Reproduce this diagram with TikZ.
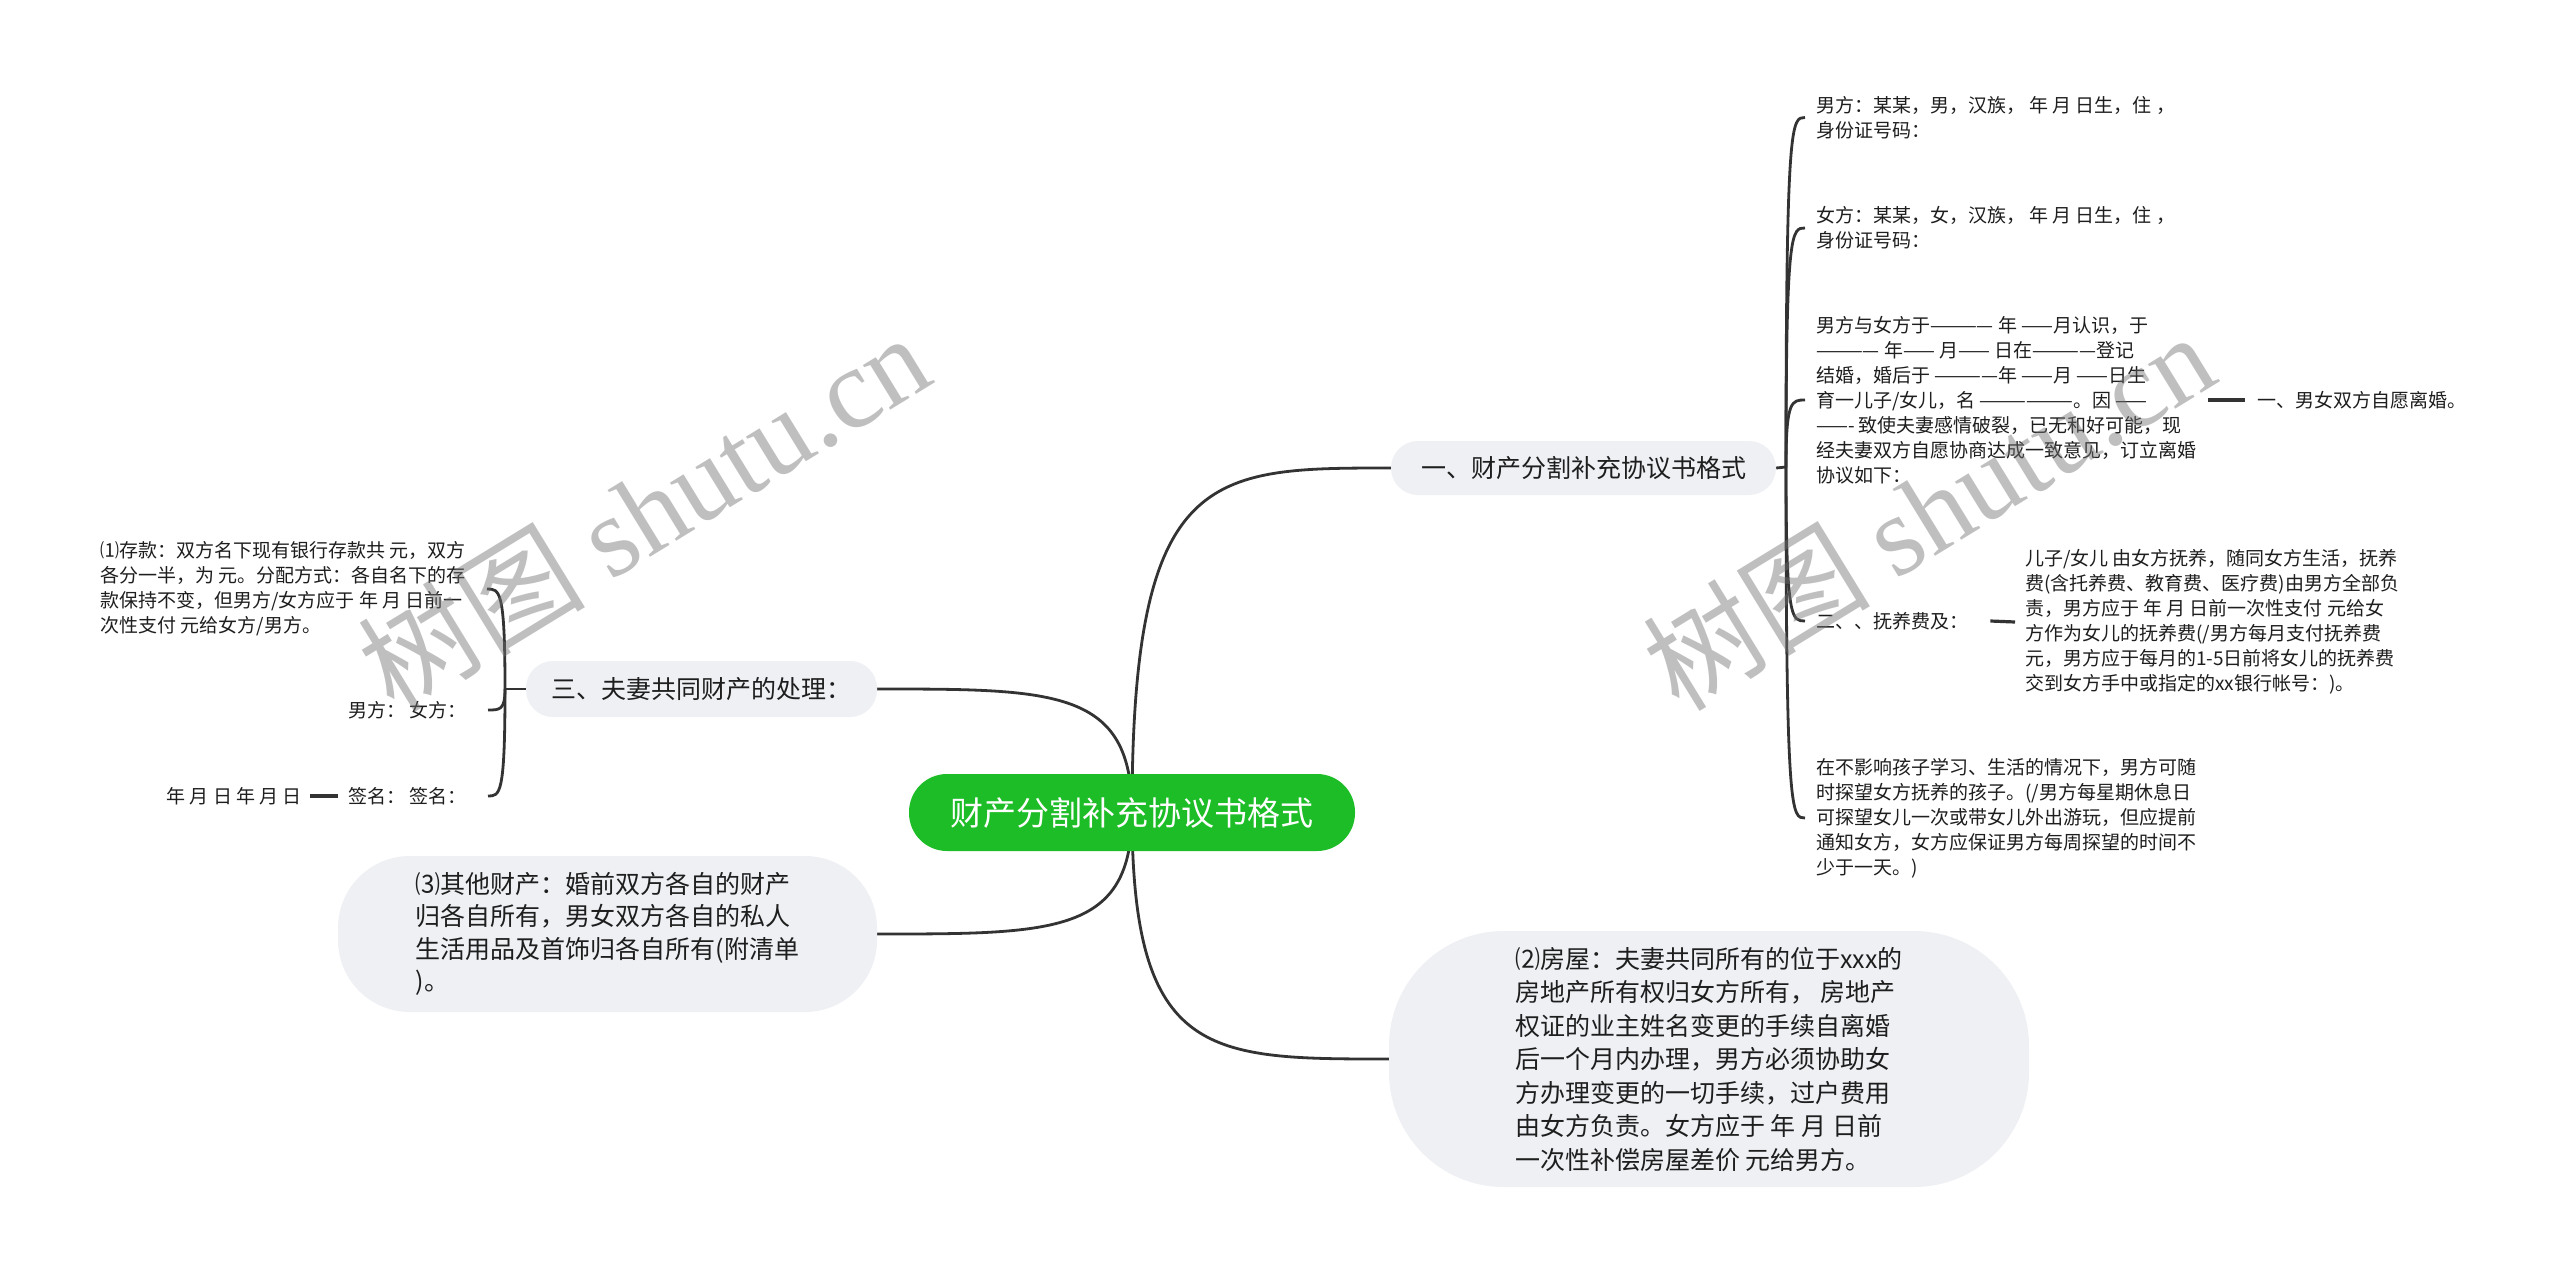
\documentclass[tikz,border=0pt]{standalone}
\usepackage{fontspec}
\setmainfont{Noto Sans CJK SC}
\newfontfamily\wmserif{Liberation Serif}
\usetikzlibrary{calc}
\definecolor{boxgray}{RGB}{238,240,244}
\definecolor{rootgreen}{RGB}{28,189,38}
\definecolor{linecol}{RGB}{51,51,51}
\definecolor{txtcol}{RGB}{30,30,30}
\pgfdeclarelayer{bg}
\pgfdeclarelayer{fg}
\pgfsetlayers{bg,main,fg}
\begin{document}
\begin{tikzpicture}[x=1pt,y=-1pt,
  conn/.style={draw=linecol, line width=2.8pt},
  stub/.style={draw=linecol, line width=3.2pt},
  small/.style={inner sep=0pt, align=left, text=txtcol, font=\fontsize{19}{25}\selectfont},
  lvlone/.style={fill=boxgray, rounded corners=27pt, inner sep=0pt, text=txtcol, font=\fontsize{25}{33}\selectfont},
  bigbox/.style={fill=boxgray, inner sep=0pt, align=left, text=txtcol},
  rootbox/.style={fill=rootgreen, rounded corners=38pt, inner sep=0pt, text=white, font=\fontsize{33}{40}\selectfont},
  wmark/.style={rotate=31.5, text=black!55, text opacity=0.45, inner sep=0pt}
]
\begin{pgfonlayer}{bg}
\fill[white] (0,0) rectangle (2560,1269);
\end{pgfonlayer}
\useasboundingbox (0,0) rectangle (2560,1269);

% ---------- main nodes ----------
\node[rootbox, minimum width=446pt, minimum height=77pt] (root) at (1132,812.5) {财产分割补充协议书格式};
\node[lvlone, minimum width=385pt, minimum height=54pt] (n1) at (1583.5,468) {一、财产分割补充协议书格式};
\node[lvlone, minimum width=351pt, minimum height=56pt] (n3) at (701.5,689) {三、夫妻共同财产的处理：};
\node[bigbox, rounded corners=72pt, minimum width=539pt, minimum height=156pt, font=\fontsize{25}{32.5}\selectfont] (pthree) at (607.5,934)
  {⑶其他财产：婚前双方各自的财产\\归各自所有，男女双方各自的私人\\生活用品及首饰归各自所有(附清单\\)。};
\node[bigbox, rounded corners=115pt, minimum width=640pt, minimum height=256pt, font=\fontsize{25}{33.5}\selectfont] (ptwo) at (1709,1059)
  {⑵房屋：夫妻共同所有的位于xxx的\\房地产所有权归女方所有， 房地产\\权证的业主姓名变更的手续自离婚\\后一个月内办理，男方必须协助女\\方办理变更的一切手续，过户费用\\由女方负责。女方应于 年 月 日前\\一次性补偿房屋差价 元给男方。};

% ---------- right children ----------
\node[small, anchor=west] (c1) at (1816,117.5) {男方：某某，男，汉族， 年 月 日生，住 ，\\身份证号码：};
\node[small, anchor=west] (c2) at (1816,228) {女方：某某，女，汉族， 年 月 日生，住 ，\\身份证号码：};
\node[small, anchor=west] (c3) at (1816,400) {男方与女方于———— 年 ——月认识，于\\———— 年—— 月—— 日在————登记\\结婚，婚后于 ————年 ——月 ——日生\\育一儿子/女儿，名 ——————。因 ——\\——- 致使夫妻感情破裂，已无和好可能，现\\经夫妻双方自愿协商达成一致意见，订立离婚\\协议如下：};
\node[small, anchor=west] (c3a) at (2257,400) {一、男女双方自愿离婚。};
\node[small, anchor=west] (c4) at (1816,621) {二、、抚养费及：};
\node[small, anchor=west] (c4a) at (2025,622) {儿子/女儿 由女方抚养，随同女方生活，抚养\\费(含托养费、教育费、医疗费)由男方全部负\\责，男方应于 年 月 日前一次性支付 元给女\\方作为女儿的抚养费(/男方每月支付抚养费\\元，男方应于每月的1-5日前将女儿的抚养费\\交到女方手中或指定的xx银行帐号：)。};
\node[small, anchor=west] (c5) at (1816,818) {在不影响孩子学习、生活的情况下，男方可随\\时探望女方抚养的孩子。(/男方每星期休息日\\可探望女儿一次或带女儿外出游玩，但应提前\\通知女方，女方应保证男方每周探望的时间不\\少于一天。)};

% ---------- left children ----------
\node[small, anchor=east] (l1) at (466,589) {⑴存款：双方名下现有银行存款共 元，双方\\各分一半，为 元。分配方式：各自名下的存\\款保持不变，但男方/女方应于 年 月 日前一\\次性支付 元给女方/男方。};
\node[small, anchor=east] (l2) at (467,710) {男方： 女方：};
\node[small, anchor=east] (l3) at (467,796) {签名： 签名：};
\node[small, anchor=east] (l3a) at (302,796) {年 月 日 年 月 日};

% ---------- connectors ----------
\begin{pgfonlayer}{bg}
\foreach \t in {n1.west,n3.east,pthree.east,ptwo.west}{
  \draw[conn] (root.center) .. controls (root.center |- \t) and ($(root.center |- \t)!0.3!(\t)$) .. (\t);
}
\coordinate (jr) at (1786,467);
\draw[conn] (n1.east) -- (jr);
\foreach \c in {c1,c2,c3,c4,c5}{
  \coordinate (h\c) at ([xshift=-11pt]\c.west);
  \draw[conn] (jr) .. controls (jr |- h\c) and ($(jr |- h\c)!0.3!(h\c)$) .. (h\c);
}
\coordinate (jl) at (505,689);
\draw[conn] (n3.west) -- (jl);
\foreach \c in {l1,l2,l3}{
  \coordinate (h\c) at ([xshift=21pt]\c.east);
  \draw[conn] (jl) .. controls (jl |- h\c) and ($(jl |- h\c)!0.3!(h\c)$) .. (h\c);
}
\draw[stub] ([xshift=12pt]c3.east) -- ([xshift=-12pt]c3a.west);
\draw[stub] ([xshift=22pt]c4.east) -- ([xshift=-10pt]c4a.west);
\draw[stub] ([xshift=8pt]l3a.east) -- ([xshift=-10pt]l3.west);
\end{pgfonlayer}

% ---------- watermark ----------
\begin{pgfonlayer}{fg}
\node[wmark] (wm1) at (643,511) {\fontsize{114}{114}\selectfont 树图 {\wmserif shutu.cn}};
\node[wmark] (wm2) at (1928,510) {\fontsize{114}{114}\selectfont 树图 {\wmserif shutu.cn}};
\end{pgfonlayer}
\end{tikzpicture}
\end{document}
